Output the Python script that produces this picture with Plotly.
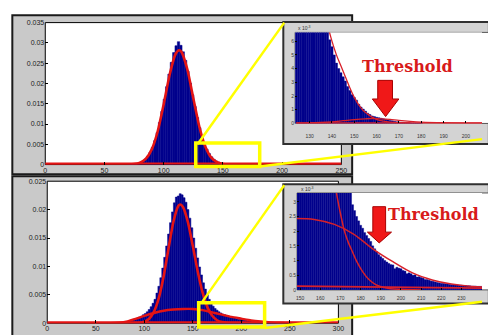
import plotly.graph_objects as go

W, H = 488, 335

# ---------------- data ----------------
# Top panel: main histogram (density), bins of width 2
top_bin_centers = [70.5 + 2 * i for i in range(46)]
top_hist = [0.00004, 0.00007, 0.00012, 0.00020, 0.00033, 0.00055, 0.00088, 0.00135, 0.00205, 0.00300,
            0.00425, 0.00590, 0.00790, 0.01040, 0.01310, 0.01610, 0.01920, 0.02230, 0.02520, 0.02760,
            0.02930, 0.03030, 0.02940, 0.02780, 0.02570, 0.02300, 0.02010, 0.01720, 0.01430, 0.01160,
            0.00910, 0.00700, 0.00520, 0.00380, 0.00270, 0.00190, 0.00130, 0.00090, 0.00060, 0.00040,
            0.00026, 0.00017, 0.00011, 0.00007, 0.00004, 0.00002]
top_fit_x = [0, 50, 60, 65, 70, 75, 80, 85, 90, 95, 100, 105, 110, 113, 115, 120, 125, 130, 135,
             140, 145, 150, 155, 160, 170, 200, 250]
top_fit_y = [0, 0, 0.000001, 0.000005, 0.000026, 0.00012, 0.00046, 0.00146, 0.00382, 0.00828,
             0.01489, 0.02214, 0.02726, 0.0282, 0.02778, 0.02343, 0.01636, 0.00946, 0.00452,
             0.00179, 0.00059, 0.00016, 0.00004, 0.00001, 0, 0, 0]
top_zero_x = [0, 250]
top_zero_y = [0, 0]

# Bottom panel: main histogram (density), bins of width 2
bot_bin_centers = [85 + 2 * i for i in range(76)]
bot_hist = [0.0004, 0.0005, 0.0007, 0.0008, 0.0009, 0.0011, 0.0012, 0.0015, 0.0017, 0.0020,
            0.0024, 0.0029, 0.0035, 0.0042, 0.0053, 0.0065, 0.0080, 0.0097, 0.0116, 0.0136,
            0.0157, 0.0177, 0.0196, 0.0212, 0.0222, 0.0224, 0.0228, 0.0226, 0.0221, 0.0213,
            0.0200, 0.0185, 0.0168, 0.0150, 0.0132, 0.0115, 0.0099, 0.0085, 0.0071, 0.0060,
            0.0050, 0.0042, 0.0035, 0.0030, 0.0026, 0.0023, 0.0020, 0.0018, 0.0016, 0.0015,
            0.0013, 0.0012, 0.0011, 0.0010, 0.0009, 0.0008, 0.0007, 0.0007, 0.0006, 0.0005,
            0.0005, 0.0004, 0.0004, 0.0003, 0.0003, 0.0002, 0.0002, 0.0002, 0.0001, 0.0001,
            0.0001, 0.00008, 0.00006, 0.00005, 0.00004, 0.00003]
bot_fit1_x = [0, 60, 80, 90, 95, 100, 105, 110, 115, 120, 125, 130, 135, 137, 140, 145, 150, 155,
              160, 165, 170, 175, 180, 185, 190, 200]
bot_fit1_y = [0, 0, 0.000002, 0.000018, 0.000074, 0.00026, 0.00079, 0.00203, 0.00444, 0.0083,
              0.0132, 0.01786, 0.02063, 0.0209, 0.02042, 0.01775, 0.01358, 0.00914, 0.00542,
              0.00283, 0.0013, 0.00052, 0.00019, 0.00006, 0.00001, 0]
bot_fit2_x = [40, 60, 70, 80, 90, 100, 110, 120, 130, 140, 150, 160, 170, 180, 190, 200, 210, 220,
              230, 240, 250, 260]
bot_fit2_y = [0, 0, 0.00005, 0.0002, 0.0007, 0.0013, 0.0018, 0.0022, 0.0024, 0.0025, 0.0025,
              0.0023, 0.0019, 0.0015, 0.0011, 0.0008, 0.0005, 0.0003, 0.00015, 0.00007, 0.00003, 0]
bot_zero_x = [0, 300]
bot_zero_y = [0, 0]

# Top inset (x 10^-3), bins of width 1
ins1_x = list(range(124, 181))
ins1_hist = [8.0] * 14 + [6.8, 6.1, 5.6, 5.0, 4.4, 4.0, 3.7, 3.4, 3.1, 2.7, 2.4, 2.1, 1.9, 1.7, 1.4,
                          1.2, 1.05, 0.9, 0.75, 0.65, 0.55, 0.5, 0.45, 0.42, 0.38, 0.35, 0.3, 0.26,
                          0.22, 0.19, 0.16, 0.13, 0.11, 0.09, 0.08, 0.07, 0.06, 0.05, 0.04, 0.04,
                          0.03, 0.03, 0.02]
ins1_fit_x = [130, 134, 136, 138, 140, 142, 144, 146, 148, 150, 152, 154, 156, 158, 160, 163, 166,
              170, 175]
ins1_fit_y = [12, 9.8, 8.5, 7.2, 6.0, 5.0, 4.2, 3.4, 2.6, 1.9, 1.35, 0.95, 0.68, 0.46, 0.3, 0.17,
              0.1, 0.06, 0.04]
ins1_hump_x = [124, 130, 135, 140, 145, 150, 155, 158, 162, 166, 170, 175, 180, 190, 200, 208]
ins1_hump_y = [0.02, 0.04, 0.07, 0.12, 0.2, 0.28, 0.34, 0.36, 0.34, 0.29, 0.22, 0.15, 0.1, 0.05,
               0.03, 0.02]
ins1_zero_x = [124, 208]
ins1_zero_y = [0.02, 0.02]

# Bottom inset (x 10^-3), bins of width 1
ins2_x = list(range(148, 241))
ins2_hist = [4.0] * 28 + [2.9, 2.7, 2.5, 2.35, 2.2, 2.1, 1.95, 1.85, 1.75, 1.65, 1.5, 1.4, 1.3, 1.2,
                          1.13, 1.07, 1.0, 0.95, 0.9, 0.86, 0.85, 0.72, 0.77, 0.74, 0.72, 0.66, 0.64,
                          0.55, 0.58, 0.55, 0.5, 0.51, 0.44, 0.45, 0.42, 0.4, 0.35, 0.35, 0.33, 0.3,
                          0.29, 0.27, 0.25, 0.24, 0.22, 0.22, 0.21, 0.2, 0.19, 0.18, 0.18, 0.17,
                          0.17, 0.16, 0.16, 0.15, 0.15, 0.14, 0.14, 0.13, 0.13, 0.13, 0.12, 0.12,
                          0.12]
ins2_fit1_x = [160, 164, 166, 168, 170, 172, 174, 176, 178, 181, 184, 187.5, 191, 195, 200, 210]
ins2_fit1_y = [6.5, 4.8, 4.0, 3.3, 2.6, 2.0, 1.6, 1.29, 0.98, 0.62, 0.36, 0.18, 0.09, 0.04, 0.02, 0.0]
ins2_fit2_x = [148, 157, 167, 176.5, 186, 196, 206, 215.5, 225, 235, 241]
ins2_fit2_y = [2.43, 2.4, 2.23, 1.9, 1.4, 0.96, 0.57, 0.34, 0.2, 0.12, 0.1]
ins2_floor_x = [148, 241]
ins2_floor_y = [0.13, 0.06]

# tick labels
top_xticks = [0, 50, 100, 150, 200, 250]
top_yticks = [0, 0.005, 0.01, 0.015, 0.02, 0.025, 0.03, 0.035]
top_ytext = ["0", "0.005", "0.01", "0.015", "0.02", "0.025", "0.03", "0.035"]
bot_xticks = [0, 50, 100, 150, 200, 250, 300]
bot_yticks = [0, 0.005, 0.01, 0.015, 0.02, 0.025]
bot_ytext = ["0", "0.005", "0.01", "0.015", "0.02", "0.025"]
ins1_xticks = [130, 140, 150, 160, 170, 180, 190, 200]
ins1_yticks = [0, 1, 2, 3, 4, 5, 6]
ins2_xticks = [150, 160, 170, 180, 190, 200, 210, 220, 230]
ins2_yticks = [0, 0.5, 1, 1.5, 2, 2.5, 3]
ins2_ytext = ["0", "0.5", "1", "1.5", "2", "2.5", "3"]

NAVY = "#00008c"
RED = "#e41414"
INRED = "#d8202a"
YEL = "#ffff00"


def px(x):
    return x / W


def py(y):
    return 1 - y / H


fig = go.Figure()

# main panels
fig.add_trace(go.Bar(x=top_bin_centers, y=top_hist, width=2, marker=dict(color=NAVY, line=dict(width=0.5, color=NAVY)),
                     xaxis="x", yaxis="y"))
fig.add_trace(go.Scatter(x=top_zero_x, y=top_zero_y, mode="lines", line=dict(color=RED, width=4), xaxis="x", yaxis="y"))
fig.add_trace(go.Scatter(x=top_fit_x, y=top_fit_y, mode="lines", line=dict(color=RED, width=2.6, shape="spline", smoothing=0.6),
                         xaxis="x", yaxis="y"))

fig.add_trace(go.Bar(x=bot_bin_centers, y=bot_hist, width=2, marker=dict(color=NAVY, line=dict(width=0.5, color=NAVY)),
                     xaxis="x2", yaxis="y2"))
fig.add_trace(go.Scatter(x=bot_zero_x, y=bot_zero_y, mode="lines", line=dict(color=RED, width=4), xaxis="x2", yaxis="y2"))
fig.add_trace(go.Scatter(x=bot_fit2_x, y=bot_fit2_y, mode="lines", line=dict(color=RED, width=2.4, shape="spline", smoothing=0.6),
                         xaxis="x2", yaxis="y2"))
fig.add_trace(go.Scatter(x=bot_fit1_x, y=bot_fit1_y, mode="lines", line=dict(color=RED, width=2.6, shape="spline", smoothing=0.6),
                         xaxis="x2", yaxis="y2"))

# insets
fig.add_trace(go.Bar(x=ins1_x, y=ins1_hist, width=1, marker=dict(color=NAVY, line=dict(width=0.4, color=NAVY)),
                     xaxis="x3", yaxis="y3"))
fig.add_trace(go.Scatter(x=ins1_zero_x, y=ins1_zero_y, mode="lines", line=dict(color=INRED, width=1.8), xaxis="x3", yaxis="y3"))
fig.add_trace(go.Scatter(x=ins1_hump_x, y=ins1_hump_y, mode="lines", line=dict(color=INRED, width=1.3, shape="spline"),
                         xaxis="x3", yaxis="y3"))
fig.add_trace(go.Scatter(x=ins1_fit_x, y=ins1_fit_y, mode="lines", line=dict(color=INRED, width=1.3, shape="spline"),
                         xaxis="x3", yaxis="y3"))

fig.add_trace(go.Bar(x=ins2_x, y=ins2_hist, width=1, marker=dict(color=NAVY, line=dict(width=0.4, color=NAVY)),
                     xaxis="x4", yaxis="y4"))
fig.add_trace(go.Scatter(x=ins2_floor_x, y=ins2_floor_y, mode="lines", line=dict(color=INRED, width=1.8), xaxis="x4", yaxis="y4"))
fig.add_trace(go.Scatter(x=ins2_fit2_x, y=ins2_fit2_y, mode="lines", line=dict(color=INRED, width=1.5, shape="spline"),
                         xaxis="x4", yaxis="y4"))
fig.add_trace(go.Scatter(x=ins2_fit1_x, y=ins2_fit1_y, mode="lines", line=dict(color=INRED, width=1.5, shape="spline"),
                         xaxis="x4", yaxis="y4"))

main_font = dict(family="Liberation Sans, Arial, sans-serif", size=7, color="#222")
ins_font = dict(family="Liberation Sans, Arial, sans-serif", size=5, color="#333")
common = dict(showgrid=False, zeroline=False, showline=False, ticks="inside", ticklen=3, tickwidth=1,
              tickcolor="#000")

fig.update_layout(
    width=W, height=H, margin=dict(l=0, r=0, t=0, b=0),
    paper_bgcolor="white", plot_bgcolor="white", showlegend=False, barmode="overlay",
    xaxis=dict(domain=[px(44), px(345)], range=[0, 250], anchor="y", tickvals=top_xticks,
               tickfont=main_font, **common),
    yaxis=dict(domain=[py(164), py(19)], range=[0, 0.035], anchor="x", tickvals=top_yticks,
               ticktext=top_ytext, tickfont=main_font, **common),
    xaxis2=dict(domain=[px(46), px(342)], range=[0, 300], anchor="y2", tickvals=bot_xticks,
                tickfont=main_font, **common),
    yaxis2=dict(domain=[py(326), py(181)], range=[0, 0.025], anchor="x2", tickvals=bot_yticks,
                ticktext=bot_ytext, tickfont=main_font, **common),
    xaxis3=dict(domain=[px(298), 1], range=[123.5, 207.2], anchor="y3", tickvals=ins1_xticks,
                tickfont=ins_font, ticklabelstandoff=9, **{**common, "ticklen": 2}),
    yaxis3=dict(domain=[py(122), py(29)], range=[0, 6.64], anchor="x3", tickvals=ins1_yticks,
                tickfont=ins_font, **{**common, "ticklen": 2}),
    xaxis4=dict(domain=[px(300), 1], range=[148.5, 240.2], anchor="y4", tickvals=ins2_xticks,
                tickfont=ins_font, ticklabelstandoff=4, **{**common, "ticklen": 2}),
    yaxis4=dict(domain=[py(292), py(193)], range=[0, 3.3], anchor="x4", tickvals=ins2_yticks,
                ticktext=ins2_ytext, tickfont=ins_font, **{**common, "ticklen": 2}),
)

GRAY = "#c9c9c9"
IGRAY = "#d3d3d3"


def rect(x0, y0, x1, y1, fill, lc, lw, layer="below"):
    return dict(type="rect", xref="paper", yref="paper", x0=px(x0), x1=px(x1), y0=py(y0), y1=py(y1),
                fillcolor=fill, line=dict(color=lc, width=lw), layer=layer)


def seg(x0, y0, x1, y1, color, lw):
    return dict(type="line", xref="paper", yref="paper", x0=px(x0), x1=px(x1), y0=py(y0), y1=py(y1),
                line=dict(color=color, width=lw), layer="above")


def arrow(sx0, sx1, sy0, sy1, hx0, hx1, tipx, tipy):
    path = (f"M {px(sx0)},{py(sy0)} L {px(sx1)},{py(sy0)} L {px(sx1)},{py(sy1)} L {px(hx1)},{py(sy1)} "
            f"L {px(tipx)},{py(tipy)} L {px(hx0)},{py(sy1)} L {px(sx0)},{py(sy1)} Z")
    return dict(type="path", xref="paper", yref="paper", path=path, fillcolor="#f01818",
                line=dict(color="#a80000", width=1), layer="above")


shapes = [
    rect(10.5, 11.5, 356, 174, GRAY, "#1a1a1a", 2),
    rect(10.5, 176, 356, 345, GRAY, "#1a1a1a", 2),
    rect(44, 19, 345, 164, "white", "#000", 1),
    rect(46, 181, 342, 326, "white", "#000", 1),
    rect(286, 18.5, 495, 143, IGRAY, "#303030", 2),
    rect(298, 29, 495, 122, "white", "#555", 1),
    rect(286, 184, 495, 306, IGRAY, "#303030", 2),
    rect(300, 193, 495, 292, "white", "#555", 1),
    # yellow zoom boxes and connectors
    seg(199, 143, 287, 19, YEL, 2.5),
    seg(262, 166, 488, 138, YEL, 2.5),
    rect(197, 142, 262, 166, "rgba(0,0,0,0)", YEL, 3.5, layer="above"),
    seg(203, 305, 287, 185, YEL, 2.5),
    seg(267, 331, 488, 304, YEL, 2.5),
    rect(200, 305, 267, 330, "rgba(0,0,0,0)", YEL, 3.5, layer="above"),
    # threshold arrows
    arrow(382, 397, 78, 97, 376.5, 403.5, 390, 115),
    arrow(377, 390, 207, 233, 371.5, 396, 383.5, 244),
]
fig.update_layout(shapes=shapes)

thr_font = dict(family="DejaVu Serif, Liberation Serif, serif", size=16, color="#d81a1a")
fig.update_layout(annotations=[
    dict(text="<b>Threshold</b>", x=px(412), y=py(64), xref="paper", yref="paper", showarrow=False,
         xanchor="center", yanchor="middle", font=thr_font),
    dict(text="<b>Threshold</b>", x=px(439), y=py(215), xref="paper", yref="paper", showarrow=False,
         xanchor="center", yanchor="middle", font=thr_font),
    dict(text="x 10<sup>-3</sup>", x=px(299), y=py(25), xref="paper", yref="paper", showarrow=False,
         xanchor="left", yanchor="middle", font=ins_font),
    dict(text="x 10<sup>-3</sup>", x=px(302), y=py(189), xref="paper", yref="paper", showarrow=False,
         xanchor="left", yanchor="middle", font=ins_font),
])

fig.write_html("out.html", config={"displayModeBar": False, "staticPlot": True},
               post_script="document.body.style.margin='0px';document.body.style.overflow='hidden';")
